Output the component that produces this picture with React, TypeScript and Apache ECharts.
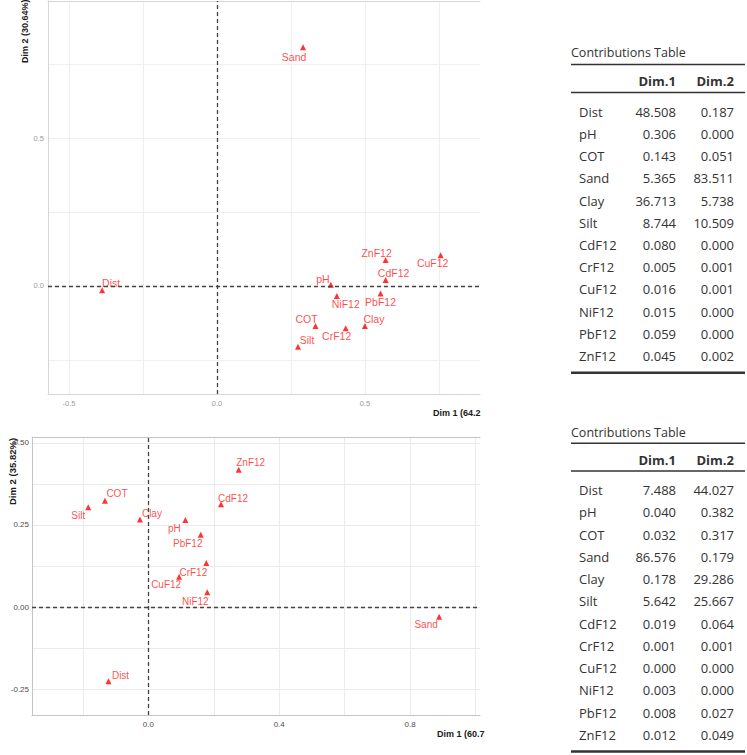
import React, { useEffect, useRef } from "react";
import * as echarts from "echarts";

// ---------- data ----------
const varNames = ["Dist", "pH", "COT", "Sand", "Clay", "Silt", "CdF12", "CrF12", "CuF12", "NiF12", "PbF12", "ZnF12"];

// top biplot coordinates
const topDim1 = [-0.388, 0.385, 0.333, 0.291, 0.5, 0.274, 0.57, 0.435, 0.756, 0.405, 0.553, 0.57];
const topDim2 = [-0.014, 0.004, -0.135, 0.807, -0.135, -0.205, 0.02, -0.143, 0.104, -0.034, -0.025, 0.088];

// bottom biplot coordinates
const botDim1 = [-0.122, 0.113, -0.133, 0.889, -0.026, -0.184, 0.222, 0.177, 0.094, 0.18, 0.16, 0.276];
const botDim2 = [-0.226, 0.265, 0.324, -0.03, 0.267, 0.304, 0.313, 0.134, 0.092, 0.045, 0.22, 0.418];

// contributions tables
const topContrib1 = [48.508, 0.306, 0.143, 5.365, 36.713, 8.744, 0.08, 0.005, 0.016, 0.015, 0.059, 0.045];
const topContrib2 = [0.187, 0.0, 0.051, 83.511, 5.738, 10.509, 0.0, 0.001, 0.001, 0.0, 0.0, 0.002];
const botContrib1 = [7.488, 0.04, 0.032, 86.576, 0.178, 5.642, 0.019, 0.001, 0.0, 0.003, 0.008, 0.012];
const botContrib2 = [44.027, 0.382, 0.317, 0.179, 29.286, 25.667, 0.064, 0.001, 0.0, 0.0, 0.027, 0.049];

// tick values
const topXMajor = [-0.5, 0, 0.5];
const topXGrid = [-0.5, -0.25, 0, 0.25, 0.5, 0.75];
const topYMajor = [0, 0.5];
const topYGrid = [-0.25, 0, 0.25, 0.5, 0.75];
const botXMajor = [0, 0.4, 0.8];
const botXGrid = [-0.2, 0, 0.2, 0.4, 0.6, 0.8, 1.0];
const botYMajor = [-0.25, 0, 0.25, 0.5];
const botYGrid = [-0.25, -0.125, 0, 0.125, 0.25, 0.375, 0.5];

// ---------- label placement (style, not data) ----------
const topLabelOffsets: number[][] = [
  [9, -7], [-8, -6], [-9, -7], [-9, 10], [9, -7], [9, -7],
  [8, -7], [-9, 8], [-8, 8], [9, 8], [0, 9], [-9, -7],
];
const botLabelOffsets: number[][] = [
  [12, -6], [-11, 8], [12, -7], [-13, 8], [12, -6], [-10, 8],
  [12, -6], [-13, 9], [-13, 8], [-12, 9], [-13, 9], [12, -7],
];

const CHART_FONT = "'Liberation Sans', Arial, sans-serif";
const TABLE_FONT = "'Open Sans', 'Noto Sans', sans-serif";

function buildTable(
  c1: number[],
  c2: number[],
  pos: { title: number; line1: number; header: number; line2: number; row0: number; step: number; bottom: number }
) {
  const els: any[] = [];
  const xl = 571;
  const xr = 745;
  const xName = 579;
  const xC1 = 676;
  const xC2 = 734;
  const txt = (text: string, x: number, y: number, align: string, opts: any = {}) => ({
    type: "text",
    x,
    y,
    silent: true,
    style: {
      text,
      fill: opts.fill || "#333333",
      fontSize: opts.fontSize || 13,
      fontFamily: TABLE_FONT,
      fontWeight: opts.fontWeight || "normal",
      textAlign: align,
      align,
      textVerticalAlign: "middle",
      verticalAlign: "middle",
    },
  });
  const line = (y: number, w: number) => ({
    type: "line",
    silent: true,
    shape: { x1: xl, y1: y, x2: xr, y2: y },
    style: { stroke: "#333333", lineWidth: w },
  });
  els.push(txt("Contributions Table", xl, pos.title, "left", { fontSize: 12.5 }));
  els.push(line(pos.line1, 1.5));
  els.push(txt("Dim.1", xC1, pos.header, "right", { fontWeight: "bold" }));
  els.push(txt("Dim.2", xC2, pos.header, "right", { fontWeight: "bold" }));
  els.push(line(pos.line2, 1.5));
  varNames.forEach((n, i) => {
    const y = pos.row0 + i * pos.step;
    els.push(txt(n, xName, y, "left"));
    els.push(txt(c1[i].toFixed(3), xC1, y, "right"));
    els.push(txt(c2[i].toFixed(3), xC2, y, "right"));
  });
  els.push(line(pos.bottom, 2.5));
  return els;
}

function axisTitle(text: string, x: number, y: number, rotate: boolean, fontSize: number) {
  return {
    type: "text",
    x,
    y,
    rotation: rotate ? Math.PI / 2 : 0,
    silent: true,
    style: {
      text,
      fill: "#1a1a1a",
      fontSize,
      fontWeight: "bold",
      fontFamily: CHART_FONT,
      textAlign: "left",
      align: "left",
      textVerticalAlign: "middle",
      verticalAlign: "middle",
    },
  };
}

function makePoints(d1: number[], d2: number[], offsets: number[][]) {
  return varNames.map((n, i) => ({
    name: n,
    value: [d1[i], d2[i]],
    label: { offset: offsets[i] },
  }));
}

export default function App() {
  const ref = useRef<HTMLDivElement>(null);
  useEffect(() => {
    document.body.style.margin = "0";
    if (!ref.current) return;
    const chart = echarts.init(ref.current, undefined, { renderer: "svg" });

    const gridLine = (c: string) => ({ show: true, lineStyle: { color: c, width: 1 } });
    const border = (c: string) => ({ show: true, onZero: false, lineStyle: { color: c, width: 1 } });

    const zeroMark = {
      silent: true,
      symbol: ["none", "none"],
      label: { show: false },
      lineStyle: { type: [4, 3], color: "#444444", width: 1.3 },
      data: [{ xAxis: 0 }, { yAxis: 0 }],
    };

    const pointLabel = (fs: number) => ({
      show: true,
      position: "inside",
      formatter: "{b}",
      color: "#ff1a1a",
      fontSize: fs,
      fontFamily: CHART_FONT,
    });

    const option: any = {
      animation: false,
      backgroundColor: "#ffffff",
      grid: [
        { left: 48, top: 1, width: 432, height: 393 },
        { left: 32, top: 437, width: 448, height: 278 },
      ],
      xAxis: [
        {
          gridIndex: 0,
          type: "value",
          min: -0.571,
          max: 0.889,
          axisLine: border("#d6d6d6"),
          axisTick: { show: false, customValues: topXGrid },
          axisLabel: {
            customValues: topXMajor,
            formatter: (v: number) => v.toFixed(1),
            color: "#9a9a9a",
            fontSize: 7.5,
            fontFamily: CHART_FONT,
            margin: 5,
          },
          splitLine: gridLine("#efefef"),
        },
        {
          gridIndex: 0,
          type: "value",
          position: "top",
          min: -0.571,
          max: 0.889,
          axisLine: border("#d6d6d6"),
          axisTick: { show: false },
          axisLabel: { show: false },
          splitLine: { show: false },
        },
        {
          gridIndex: 1,
          type: "value",
          min: -0.356,
          max: 1.014,
          axisLine: border("#c4c4c4"),
          axisTick: { show: false, customValues: botXGrid },
          axisLabel: {
            customValues: botXMajor,
            formatter: (v: number) => v.toFixed(1),
            color: "#4d4d4d",
            fontSize: 8,
            fontFamily: CHART_FONT,
            margin: 5,
          },
          splitLine: gridLine("#ebebeb"),
        },
        {
          gridIndex: 1,
          type: "value",
          position: "top",
          min: -0.356,
          max: 1.014,
          axisLine: border("#c4c4c4"),
          axisTick: { show: false },
          axisLabel: { show: false },
          splitLine: { show: false },
        },
      ],
      yAxis: [
        {
          gridIndex: 0,
          type: "value",
          min: -0.365,
          max: 0.963,
          axisLine: border("#d6d6d6"),
          axisTick: { show: false, customValues: topYGrid },
          axisLabel: {
            customValues: topYMajor,
            formatter: (v: number) => v.toFixed(1),
            color: "#9a9a9a",
            fontSize: 7.5,
            fontFamily: CHART_FONT,
            margin: 4,
          },
          splitLine: gridLine("#efefef"),
        },
        {
          gridIndex: 1,
          type: "value",
          min: -0.329,
          max: 0.518,
          axisLine: border("#c4c4c4"),
          axisTick: { show: false, customValues: botYGrid },
          axisLabel: {
            customValues: botYMajor,
            formatter: (v: number) => v.toFixed(2),
            color: "#4d4d4d",
            fontSize: 8,
            fontFamily: CHART_FONT,
            margin: 3,
          },
          splitLine: gridLine("#ebebeb"),
        },
      ],
      series: [
        {
          type: "scatter",
          xAxisIndex: 0,
          yAxisIndex: 0,
          symbol: "triangle",
          symbolSize: 6,
          itemStyle: { color: "#ff0000" },
          label: pointLabel(10.5),
          markLine: zeroMark,
          data: makePoints(topDim1, topDim2, topLabelOffsets),
        },
        {
          type: "scatter",
          xAxisIndex: 2,
          yAxisIndex: 1,
          symbol: "triangle",
          symbolSize: 6,
          itemStyle: { color: "#ff0000" },
          label: pointLabel(10),
          markLine: zeroMark,
          data: makePoints(botDim1, botDim2, botLabelOffsets),
        },
      ],
      graphic: [
        axisTitle("Dim 2 (30.64%)", 25, 63, true, 9),
        axisTitle("Dim 1 (64.2", 433, 413, false, 9),
        axisTitle("Dim 2 (35.82%)", 12, 505, true, 9.5),
        axisTitle("Dim 1 (60.7", 437, 734, false, 9),
        ...buildTable(topContrib1, topContrib2, {
          title: 52, line1: 64.5, header: 81, line2: 92.5, row0: 111.7, step: 22.2, bottom: 372.7,
        }),
        ...buildTable(botContrib1, botContrib2, {
          title: 432.7, line1: 443.3, header: 460, line2: 471, row0: 490, step: 22.27, bottom: 751.5,
        }),
      ],
    };
    chart.setOption(option);
    return () => chart.dispose();
  }, []);
  return <div ref={ref} style={{ width: 747, height: 755 }} />;
}
